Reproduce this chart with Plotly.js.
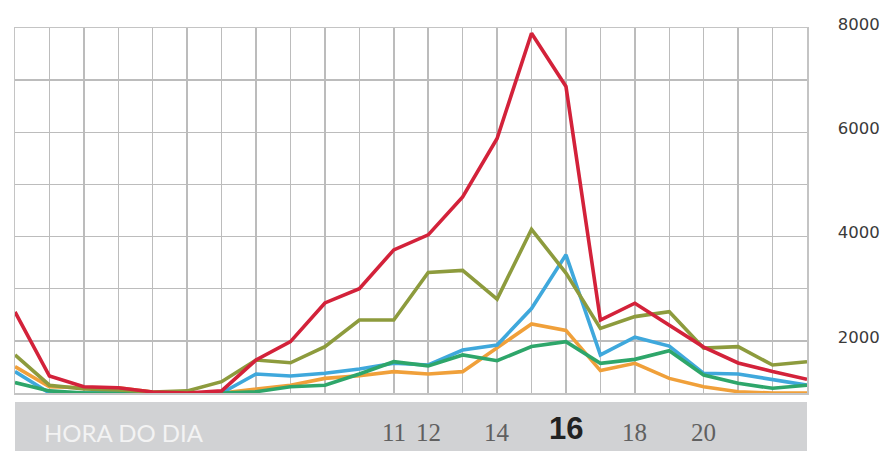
<!DOCTYPE html>
<html>
<head>
<meta charset="utf-8">
<script src="https://cdn.plot.ly/plotly-3.0.1.min.js"></script>
<style>
html,body{margin:0;padding:0;background:#fff;}
#chart{width:880px;height:451px;}
</style>
</head>
<body>
<div id="chart"></div>
<script>
// Hours of the day (0..23)
const hours = [0,1,2,3,4,5,6,7,8,9,10,11,12,13,14,15,16,17,18,19,20,21,22,23];

// Series values
const redValues    = [2555,1326,1120,1100,1020,1000,1040,1633,1985,2727,3000,3745,4033,4762,5880,7900,6880,2400,2722,2300,1880,1576,1410,1263];
const oliveValues  = [1730,1150,1080,1060,1020,1040,1217,1633,1580,1890,2400,2400,3310,3350,2800,4140,3300,2240,2465,2560,1860,1890,1537,1600];
const blueValues   = [1410,1000,1000,1000,1000,1000,1000,1365,1326,1378,1460,1570,1537,1825,1920,2620,3650,1730,2070,1900,1378,1365,1250,1150];
const orangeValues = [1505,1120,1100,1100,1020,1000,1000,1080,1150,1280,1330,1410,1365,1410,1860,2325,2200,1430,1570,1280,1120,1025,1000,1000];
const greenValues  = [1200,1040,1000,1000,1000,1000,1000,1025,1120,1150,1365,1600,1520,1730,1620,1890,1985,1570,1645,1812,1345,1185,1090,1150];

// Axis labels
const yTickVals   = [1000,2000,3000,4000,5000,6000,7000,8000];
const yTickText   = ['','2000','','4000','','6000','','8000'];
const xLabelHours = [11,12,14,18,20];
const xHighlightHour = 16;
const xAxisTitle  = 'HORA DO DIA';

const series = [
  {y: orangeValues, color: '#f0a03a'},
  {y: blueValues,   color: '#3fa8dc'},
  {y: greenValues,  color: '#2ea66a'},
  {y: oliveValues,  color: '#8d9b3d'},
  {y: redValues,    color: '#d3223a'}
];

const traces = series.map(s => ({
  type: 'scatter', mode: 'lines', x: hours, y: s.y,
  line: {color: s.color, width: 3.6, shape: 'linear'},
  hoverinfo: 'skip', showlegend: false, cliponaxis: false
}));

const annotations = xLabelHours.map(h => ({
  x: h, xref: 'x', y: -0.107, yref: 'paper', text: String(h), showarrow: false,
  xanchor: 'center', yanchor: 'middle',
  font: {family: 'Liberation Serif, DejaVu Serif, serif', size: 25, color: '#606060'}
}));
annotations.push({
  x: xHighlightHour, xref: 'x', y: -0.097, yref: 'paper', text: '<b>' + xHighlightHour + '</b>',
  showarrow: false, xanchor: 'center', yanchor: 'middle',
  font: {family: 'Liberation Sans, Arial, sans-serif', size: 31, color: '#222222'}
});
annotations.push({
  x: 0.034, xref: 'paper', y: -0.107, yref: 'paper', text: xAxisTitle, showarrow: false,
  xanchor: 'left', yanchor: 'middle',
  font: {family: 'Lato, Open Sans, sans-serif', size: 24, color: '#f3f3f3'}
});

const layout = {
  width: 880, height: 451,
  margin: {l: 15, r: 73, t: 28, b: 58, pad: 0},
  paper_bgcolor: '#ffffff', plot_bgcolor: '#ffffff',
  showlegend: false,
  xaxis: {
    range: [0, 23], dtick: 1, tick0: 0, showgrid: true, gridcolor: '#bcbcbc', gridwidth: 1.5,
    showticklabels: false, ticks: '', zeroline: false,
    showline: true, linecolor: '#c4c4c4', linewidth: 1.5, mirror: true
  },
  yaxis: {
    range: [1000, 8000], side: 'right', tickvals: yTickVals, ticktext: yTickText,
    showgrid: true, gridcolor: '#bcbcbc', gridwidth: 1.5, zeroline: false,
    ticks: '', ticklabelstandoff: 26, ticklabelshift: -4,
    tickfont: {family: 'DejaVu Sans, sans-serif', size: 16.5, color: '#3a3a3a'},
    showline: true, linecolor: '#c4c4c4', linewidth: 1.5, mirror: true
  },
  shapes: [{
    type: 'rect', xref: 'paper', yref: 'paper', x0: 0, x1: 1, y0: -0.0247, y1: -0.17,
    fillcolor: '#d1d2d4', line: {width: 0}, layer: 'below'
  }],
  annotations: annotations
};

Plotly.newPlot('chart', traces, layout, {displayModeBar: false, staticPlot: true});
</script>
</body>
</html>
